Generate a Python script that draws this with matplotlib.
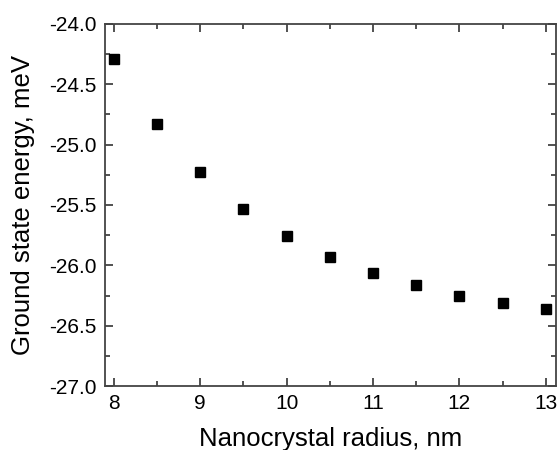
import matplotlib
matplotlib.use("Agg")
import matplotlib.pyplot as plt
from matplotlib.ticker import MultipleLocator, FormatStrFormatter

# data
radius = [8.0, 8.5, 9.0, 9.5, 10.0, 10.5, 11.0, 11.5, 12.0, 12.5, 13.0]
energy = [-24.29, -24.83, -25.23, -25.53, -25.76, -25.93, -26.06, -26.16, -26.25, -26.31, -26.36]

plt.rcParams["font.family"] = ["Liberation Sans", "DejaVu Sans"]

fig = plt.figure(figsize=(5.59, 4.5), dpi=100)
ax = fig.add_axes([0.188, 0.142, 0.807, 0.805])

ax.plot(radius, energy, "s", color="black", markersize=7.5, linestyle="none")

ax.set_xlim(7.9, 13.12)
ax.set_ylim(-27.0, -24.0)
ax.xaxis.set_major_locator(MultipleLocator(1))
ax.xaxis.set_minor_locator(MultipleLocator(0.5))
ax.yaxis.set_major_locator(MultipleLocator(0.5))
ax.yaxis.set_minor_locator(MultipleLocator(0.25))
ax.yaxis.set_major_formatter(FormatStrFormatter("%.1f"))

ax.tick_params(which="both", direction="in", top=True, right=True,
               colors="#333333", labelcolor="black", labelsize=15)
ax.tick_params(which="major", length=6, width=1.2, pad=6)
ax.tick_params(which="minor", length=3.5, width=1.2)
for s in ax.spines.values():
    s.set_color("#444444")
    s.set_linewidth(1.3)

ax.set_xlabel("Nanocrystal radius, nm", fontsize=18.5, labelpad=10)
ax.set_ylabel("Ground state energy, meV", fontsize=18.5, labelpad=10)

fig.savefig("out.png", dpi=100)
